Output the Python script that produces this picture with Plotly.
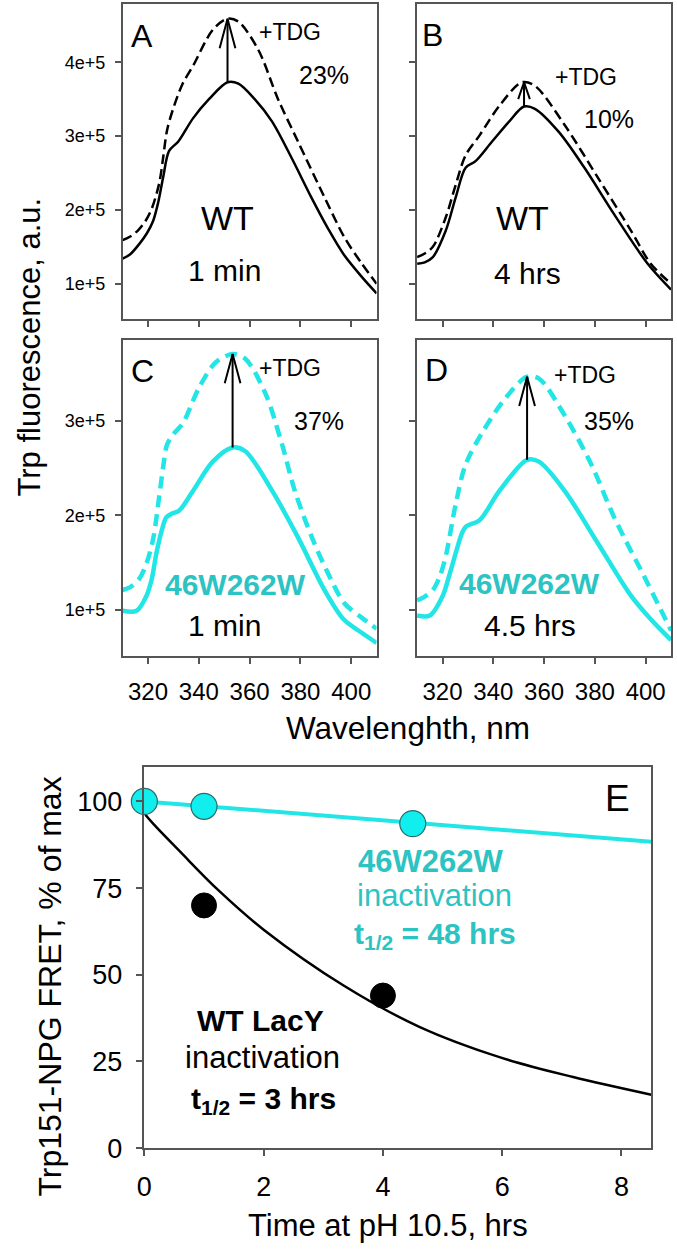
import plotly.graph_objects as go

W, H = 677, 1258

# ---------------- data (values x1e5 for spectra) ----------------
A_solid_nm = [310, 313, 316.6, 319.5, 322, 324, 326, 328.3, 332, 337.7, 344, 351.3, 355.6, 362, 368.8, 376.6, 384.3, 391, 397, 404, 410]
A_solid = [1.34, 1.4, 1.54, 1.68, 1.85, 2.1, 2.45, 2.8, 2.93, 3.24, 3.5, 3.73, 3.71, 3.5, 3.2, 2.7, 2.17, 1.74, 1.4, 1.1, 0.87]
A_dash_nm = [310, 313, 316, 319, 321.5, 324.4, 326, 327.5, 329.9, 333.5, 337.7, 345.5, 351.3, 355.6, 363.4, 371.2, 379, 389.5, 397.3, 404, 410]
A_dash = [1.59, 1.64, 1.72, 1.85, 2.02, 2.36, 2.72, 3.08, 3.37, 3.7, 3.95, 4.44, 4.59, 4.55, 4.17, 3.5, 2.93, 2.17, 1.63, 1.28, 1.0]

B_solid_nm = [310, 313, 316.2, 321.3, 325.2, 329.1, 333, 339.6, 346.3, 352.1, 356.4, 365.7, 375.9, 387.6, 400.8, 410]
B_solid = [1.27, 1.29, 1.36, 1.72, 2.17, 2.57, 2.66, 2.93, 3.2, 3.4, 3.37, 3.06, 2.57, 1.94, 1.27, 0.92]
B_dash_nm = [310, 313, 316.2, 321.3, 325.2, 329.1, 334.6, 342.4, 351.3, 356.4, 368.1, 381.3, 394.2, 402, 410]
B_dash = [1.36, 1.41, 1.5, 1.9, 2.34, 2.74, 3.01, 3.41, 3.73, 3.68, 3.15, 2.43, 1.72, 1.27, 1.0]

C_solid_nm = [310, 315.5, 319.4, 321.5, 323.3, 325.5, 327.2, 329.5, 332.2, 337.7, 345.5, 353.3, 358.3, 368.9, 379, 389.5, 397, 404, 410]
C_solid = [0.99, 0.99, 1.15, 1.33, 1.6, 1.85, 1.98, 2.02, 2.05, 2.26, 2.57, 2.72, 2.68, 2.26, 1.77, 1.21, 0.9, 0.76, 0.65]
C_dash_nm = [310, 313, 316.6, 319.5, 322, 324.4, 326, 327.5, 330, 333.8, 340, 346.6, 353.3, 358.3, 366.1, 372.8, 377.8, 384.5, 391, 397.3, 404, 410]
C_dash = [1.21, 1.24, 1.33, 1.5, 1.75, 2.2, 2.52, 2.75, 2.86, 2.98, 3.35, 3.62, 3.71, 3.66, 3.3, 2.75, 2.26, 1.77, 1.38, 1.07, 0.92, 0.8]

D_solid_nm = [310, 315, 320.1, 322.5, 325.2, 327.5, 329.1, 334.6, 342.4, 353.3, 358, 368.1, 381.3, 394.2, 402, 410]
D_solid = [0.94, 0.94, 1.15, 1.35, 1.6, 1.8, 1.88, 1.95, 2.26, 2.59, 2.57, 2.26, 1.7, 1.15, 0.9, 0.68]
D_dash_nm = [310, 313, 316.2, 319, 321.3, 325.2, 329.1, 335.7, 344.7, 353.3, 358, 368.1, 378.6, 387.6, 400.8, 410]
D_dash = [1.1, 1.14, 1.21, 1.36, 1.57, 2.12, 2.54, 2.88, 3.24, 3.47, 3.45, 3.06, 2.54, 1.98, 1.28, 0.78]

# panel E
t_wt_fit = [0, 0.15, 0.6, 1.24, 2, 3.34, 4.61, 5.98, 7.19, 8.5]
y_wt_fit = [96.5, 93.5, 85.5, 74.4, 63, 46.9, 35, 26.1, 20.5, 15.4]
t_mut_fit = [0, 8.5]
y_mut_fit = [100, 88.4]
t_wt = [1, 4]
y_wt = [70, 44]
t_mut = [0, 1, 4.5]
y_mut = [100, 98.6, 93.6]

nm_ticks = [320, 340, 360, 380, 400]
ab_ticks = [1e5, 2e5, 3e5, 4e5]
ab_ticktext = ["1e+5", "2e+5", "3e+5", "4e+5"]
cd_ticks = [1e5, 2e5, 3e5]
cd_ticktext = ["1e+5", "2e+5", "3e+5"]
e_xticks = [0, 2, 4, 6, 8]
e_yticks = [0, 25, 50, 75, 100]

# ---------------- styles ----------------
FONT = "Arial, Liberation Sans, sans-serif"
AX = "#555555"
CYAN = "#22e6e6"
CYAN_TXT = "#2cc3c3"


def px(X, Y):
    return X / W, 1 - Y / H


def dom_x(a, b):
    return [a / W, b / W]


def dom_y(top, bot):
    return [1 - bot / H, 1 - top / H]


fig = go.Figure()

panels = [
    ("x", "y", A_solid_nm, A_solid, A_dash_nm, A_dash, "black", 2.5, "10px,5px", 0.40e5, 3.1),
    ("x2", "y2", B_solid_nm, B_solid, B_dash_nm, B_dash, "black", 2.5, "10px,5px", 0.23e5, 2.3),
    ("x3", "y3", C_solid_nm, C_solid, C_dash_nm, C_dash, CYAN, 4.5, "12px,7px", 0.31e5, 3.1),
    ("x4", "y4", D_solid_nm, D_solid, D_dash_nm, D_dash, CYAN, 4.5, "12px,7px", 0.31e5, 3.1),
]

for xa, ya, snm, sv, dnm, dv, col, lw, dash, head_h, head_w in panels:
    s_vals = [v * 1e5 for v in sv]
    d_vals = [v * 1e5 for v in dv]
    fig.add_trace(go.Scatter(x=dnm, y=d_vals, mode="lines", xaxis=xa, yaxis=ya,
                             line=dict(color=col, width=lw, dash=dash, shape="spline", smoothing=0.9),
                             showlegend=False, hoverinfo="skip"))
    fig.add_trace(go.Scatter(x=snm, y=s_vals, mode="lines", xaxis=xa, yaxis=ya,
                             line=dict(color=col, width=lw, shape="spline", smoothing=0.9),
                             showlegend=False, hoverinfo="skip"))
    # arrow from solid peak to dashed peak
    i = s_vals.index(max(s_vals))
    xp = snm[i]
    y0 = s_vals[i]
    y1 = max(d_vals)
    fig.add_trace(go.Scatter(
        x=[xp, xp, None, xp - head_w, xp, xp + head_w],
        y=[y0, y1, None, y1 - head_h, y1, y1 - head_h],
        mode="lines", xaxis=xa, yaxis=ya, line=dict(color="black", width=2),
        showlegend=False, hoverinfo="skip"))

# panel E
fig.add_trace(go.Scatter(x=t_wt_fit, y=y_wt_fit, mode="lines", xaxis="x5", yaxis="y5",
                         line=dict(color="black", width=2.5, shape="spline"),
                         showlegend=False, hoverinfo="skip"))
fig.add_trace(go.Scatter(x=t_mut_fit, y=y_mut_fit, mode="lines", xaxis="x5", yaxis="y5",
                         line=dict(color=CYAN, width=4),
                         showlegend=False, hoverinfo="skip"))
fig.add_trace(go.Scatter(x=t_wt, y=y_wt, mode="markers", xaxis="x5", yaxis="y5",
                         marker=dict(color="black", size=25, line=dict(color="black", width=1)),
                         showlegend=False, hoverinfo="skip", cliponaxis=False))
fig.add_trace(go.Scatter(x=t_mut, y=y_mut, mode="markers", xaxis="x5", yaxis="y5",
                         marker=dict(color="#11eeee", size=26, line=dict(color="#2f6b6b", width=1.2)),
                         showlegend=False, hoverinfo="skip", cliponaxis=False))

common = dict(showline=True, mirror=True, linecolor=AX, linewidth=1.5, ticks="outside",
              tickcolor=AX, tickwidth=1.5, showgrid=False, zeroline=False,
              tickfont=dict(family=FONT, color="black"))

xA = dom_x(116, 373)
xB = dom_x(414, 671)
yAB = dom_y(4, 323)
yCD = dom_y(344, 664)

layout_axes = dict(
    xaxis=dict(common, domain=xA, range=[310, 410], anchor="y", tickvals=nm_ticks, showticklabels=False, ticklen=6),
    xaxis2=dict(common, domain=xB, range=[310, 410], anchor="y2", tickvals=nm_ticks, showticklabels=False, ticklen=6),
    xaxis3=dict(common, domain=xA, range=[310, 410], anchor="y3", tickvals=nm_ticks, ticklen=6,
                tickfont=dict(family=FONT, color="black", size=24), ticklabelstandoff=7),
    xaxis4=dict(common, domain=xB, range=[310, 410], anchor="y4", tickvals=nm_ticks, ticklen=6,
                tickfont=dict(family=FONT, color="black", size=24), ticklabelstandoff=7),
    xaxis5=dict(common, domain=dom_x(138, 651), range=[0, 8.5], anchor="y5", tickvals=e_xticks, ticklen=6,
                tickfont=dict(family=FONT, color="black", size=27), ticklabelstandoff=8),
    yaxis=dict(common, domain=yAB, range=[0.52e5, 4.79e5], anchor="x", tickvals=ab_ticks, ticktext=ab_ticktext,
               ticklen=6, tickfont=dict(family=FONT, color="black", size=18), ticklabelstandoff=6),
    yaxis2=dict(common, domain=yAB, range=[0.52e5, 4.79e5], anchor="x2", tickvals=ab_ticks, showticklabels=False, ticklen=6),
    yaxis3=dict(common, domain=yCD, range=[0.51e5, 3.86e5], anchor="x3", tickvals=cd_ticks, ticktext=cd_ticktext,
                ticklen=6, tickfont=dict(family=FONT, color="black", size=18), ticklabelstandoff=6),
    yaxis4=dict(common, domain=yCD, range=[0.51e5, 3.86e5], anchor="x4", tickvals=cd_ticks, showticklabels=False, ticklen=6),
    yaxis5=dict(common, domain=dom_y(776, 1162), range=[0, 110], anchor="x5", tickvals=e_yticks, ticklen=7,
                tickfont=dict(family=FONT, color="black", size=27), ticklabelstandoff=8),
)

ann = []


def T(text, X, Y, size, color="black", xanchor="center", bold=False, angle=0):
    x, y = px(X, Y)
    if bold:
        text = "<b>" + text + "</b>"
    ann.append(dict(text=text, x=x, y=y, xref="paper", yref="paper", xanchor=xanchor, yanchor="middle",
                    showarrow=False, textangle=angle, font=dict(family=FONT, size=size, color=color)))


# panel A
T("A", 122, 36, 32, xanchor="left")
T("+TDG", 252, 32, 23, xanchor="left")
T("23%", 292, 76, 25, xanchor="left")
T("WT", 222, 221, 34)
T("1 min", 219, 274, 30)
# panel B
T("B", 417, 35, 32, xanchor="left")
T("+TDG", 552, 78, 23, xanchor="left")
T("10%", 581, 120, 25, xanchor="left")
T("WT", 521, 221, 34)
T("4 hrs", 526, 277, 30)
# panel C
T("C", 122, 375, 32, xanchor="left")
T("+TDG", 252, 372, 23, xanchor="left")
T("37%", 287, 426, 25, xanchor="left")
T("46W262W", 230, 592, 30, color=CYAN_TXT, bold=True)
T("1 min", 219, 633, 30)
# panel D
T("D", 420, 374, 32, xanchor="left")
T("+TDG", 550, 380, 23, xanchor="left")
T("35%", 581, 426, 25, xanchor="left")
T("46W262W", 528, 591, 30, color=CYAN_TXT, bold=True)
T("4.5 hrs", 528, 633, 30)
# panel E
T("E", 617, 808, 37)
T("46W262W", 428, 872, 31, color=CYAN_TXT, bold=True)
T("inactivation", 432, 906, 31, color=CYAN_TXT)
T("t<sub>1/2</sub> = 48 hrs", 432, 947, 30, color=CYAN_TXT, bold=True)
T("WT LacY", 256, 1033, 30, bold=True)
T("inactivation", 258, 1070, 31)
T("t<sub>1/2</sub> = 3 hrs", 259, 1114, 30, bold=True)
# axis titles
T("Trp fluorescence, a.u.", 22, 351, 31, angle=-90)
T("Wavelenghth, nm", 405, 737, 31.5)
T("Trp151-NPG FRET, % of max", 43, 998, 32, angle=-90)
T("Time at pH 10.5, hrs", 385, 1240, 31)

fig.update_layout(width=W, height=H, margin=dict(l=0, r=0, t=0, b=0),
                  paper_bgcolor="white", plot_bgcolor="white", annotations=ann,
                  font=dict(family=FONT), **layout_axes)

fig.write_html("out.html", config={"displayModeBar": False},
               post_script="document.body.style.margin='0';document.body.style.overflow='hidden';")
